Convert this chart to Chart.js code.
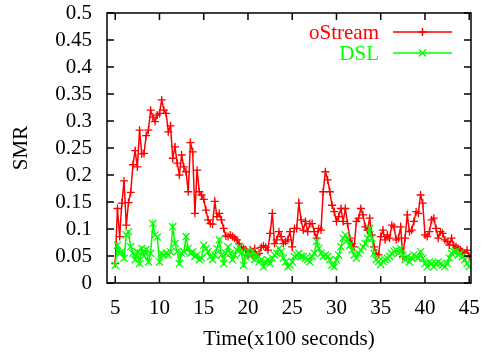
<!DOCTYPE html>
<html>
<head>
<meta charset="utf-8">
<script src="https://cdn.jsdelivr.net/npm/chart.js@4.4.1/dist/chart.umd.min.js"></script>
<style>
  html, body { margin: 0; padding: 0; background: #fff; }
</style>
</head>
<body>
<canvas id="smrChart" width="482" height="352"></canvas>
<script>
const seriesNames = ['oStream', 'DSL'];
const seriesColors = ['#ff0000', '#00ff00'];

// samples every 25 s, time axis in units of 100 s
const timeStart = 5;
const timeStep = 0.25;

const oStream = [
  0.036, 0.138, 0.086, 0.148, 0.189, 0.107, 0.149, 0.168, 0.219, 0.245,
  0.215, 0.283, 0.239, 0.240, 0.273, 0.283, 0.320, 0.307, 0.299, 0.311,
  0.314, 0.339, 0.320, 0.314, 0.280, 0.291, 0.231,
  0.252, 0.222, 0.200, 0.237, 0.215, 0.206, 0.169, 0.260, 0.243, 0.129,
  0.209, 0.169, 0.163, 0.155, 0.135, 0.117, 0.110, 0.109, 0.151, 0.123,
  0.129, 0.117, 0.101, 0.087, 0.086, 0.089, 0.086, 0.083, 0.080, 0.073,
  0.067, 0.064, 0.061, 0.052,
  0.061, 0.052, 0.064, 0.052, 0.055, 0.066, 0.069, 0.066, 0.061, 0.092,
  0.129, 0.073, 0.080, 0.095, 0.086, 0.073, 0.077, 0.080, 0.095, 0.067,
  0.101, 0.101, 0.148, 0.117, 0.098, 0.114, 0.095, 0.110, 0.110, 0.095,
  0.083, 0.101, 0.098, 0.169, 0.206,
  0.191, 0.169, 0.144, 0.132, 0.114, 0.123, 0.138, 0.114, 0.138, 0.110,
  0.083, 0.073, 0.067, 0.114, 0.120, 0.138, 0.126, 0.104, 0.098, 0.120,
  0.089, 0.067, 0.055, 0.052, 0.086, 0.098, 0.080, 0.089, 0.083, 0.107,
  0.104, 0.080, 0.083,
  0.104, 0.049, 0.083, 0.126, 0.095, 0.098, 0.114, 0.132, 0.129, 0.163,
  0.148, 0.089, 0.086, 0.095, 0.117, 0.120, 0.101, 0.083, 0.095, 0.092,
  0.080, 0.077, 0.070, 0.083, 0.070, 0.067, 0.064, 0.061, 0.058, 0.055,
  0.061, 0.049
];

const dsl = [
  0.033, 0.070, 0.055, 0.058, 0.046, 0.089, 0.095, 0.067, 0.055, 0.043,
  0.058, 0.036, 0.064, 0.050, 0.062, 0.039, 0.055, 0.110, 0.089, 0.085,
  0.039, 0.055, 0.052, 0.055, 0.052, 0.058, 0.104,
  0.073, 0.058, 0.036, 0.055, 0.058, 0.086, 0.064, 0.055, 0.058, 0.049,
  0.052, 0.043, 0.046, 0.070, 0.064, 0.058, 0.049, 0.043, 0.052, 0.064,
  0.080, 0.052, 0.036, 0.055, 0.067, 0.055, 0.043, 0.052, 0.061, 0.067,
  0.055, 0.033, 0.049, 0.058,
  0.049, 0.058, 0.043, 0.052, 0.039, 0.043, 0.030, 0.039, 0.043, 0.036,
  0.046, 0.052, 0.055, 0.064, 0.058, 0.046, 0.039, 0.030, 0.033, 0.039,
  0.049, 0.052, 0.055, 0.049, 0.049, 0.046, 0.043, 0.039, 0.049, 0.055,
  0.077, 0.064, 0.055, 0.049, 0.052,
  0.049, 0.043, 0.033, 0.030, 0.043, 0.052, 0.067, 0.083, 0.089, 0.080,
  0.070, 0.061, 0.052, 0.046, 0.055, 0.061, 0.067, 0.073, 0.083, 0.101,
  0.083, 0.055, 0.043, 0.040, 0.034, 0.040, 0.043, 0.046, 0.049, 0.055,
  0.059, 0.061, 0.055,
  0.064, 0.052, 0.043, 0.049, 0.039, 0.046, 0.052, 0.049, 0.046, 0.058,
  0.046, 0.036, 0.030, 0.039, 0.036, 0.030, 0.036, 0.039, 0.036, 0.033,
  0.030, 0.036, 0.046, 0.055, 0.058, 0.058, 0.052, 0.055, 0.049, 0.043,
  0.036, 0.030
];

const xTicks = [5, 10, 15, 20, 25, 30, 35, 40, 45];
const yTicks = [0, 0.05, 0.1, 0.15, 0.2, 0.25, 0.3, 0.35, 0.4, 0.45, 0.5];
const yTickLabels = ['0', '0.05', '0.1', '0.15', '0.2', '0.25', '0.3', '0.35', '0.4', '0.45', '0.5'];

const serif = '"Liberation Serif", "Times New Roman", serif';
const fontSize = 21;

const toPoints = vals => vals.map((v, i) => ({ x: timeStart + i * timeStep, y: v }));

// gnuplot-like frame, inward ticks and key
const gnuFrame = {
  id: 'gnuFrame',
  afterDraw(chart) {
    const { ctx, chartArea: a, scales: { x, y } } = chart;
    const tl = 7;
    ctx.save();
    ctx.strokeStyle = '#000000';
    ctx.lineWidth = 1.5;
    ctx.strokeRect(a.left, a.top, a.right - a.left, a.bottom - a.top);
    ctx.beginPath();
    xTicks.forEach(v => {
      const px = x.getPixelForValue(v);
      ctx.moveTo(px, a.bottom); ctx.lineTo(px, a.bottom - tl);
      ctx.moveTo(px, a.top); ctx.lineTo(px, a.top + tl);
    });
    yTicks.forEach(v => {
      const py = y.getPixelForValue(v);
      ctx.moveTo(a.left, py); ctx.lineTo(a.left + tl, py);
      ctx.moveTo(a.right, py); ctx.lineTo(a.right - tl, py);
    });
    ctx.stroke();
    ctx.restore();

    // key
    chart.data.datasets.forEach((ds, i) => {
      const ky = 32 + i * 21;
      const col = seriesColors[i];
      ctx.save();
      ctx.font = fontSize + 'px ' + serif;
      ctx.textAlign = 'right';
      ctx.textBaseline = 'middle';
      ctx.fillStyle = col;
      ctx.fillText(ds.label, 379, ky + 1);
      ctx.strokeStyle = col;
      ctx.fillStyle = col;
      ctx.lineWidth = 1.5;
      ctx.beginPath();
      ctx.moveTo(393, ky);
      ctx.lineTo(452, ky);
      ctx.stroke();
      Chart.helpers.drawPoint(ctx, {
        pointStyle: ds.pointStyle, radius: ds.pointRadius, rotation: 0, borderWidth: 1.5
      }, 422.5, ky);
      ctx.restore();
    });
  }
};

new Chart(document.getElementById('smrChart'), {
  type: 'line',
  data: {
    datasets: [
      {
        label: seriesNames[0],
        data: toPoints(oStream),
        borderColor: seriesColors[0],
        backgroundColor: seriesColors[0],
        borderWidth: 1.5,
        pointStyle: 'cross',
        pointRadius: 4,
        pointBorderWidth: 1.3,
        order: 1
      },
      {
        label: seriesNames[1],
        data: toPoints(dsl),
        borderColor: seriesColors[1],
        backgroundColor: seriesColors[1],
        borderWidth: 1.5,
        pointStyle: 'crossRot',
        pointRadius: 5,
        pointBorderWidth: 1.3,
        order: 0
      }
    ]
  },
  options: {
    responsive: false,
    animation: false,
    layout: { padding: { top: 13, right: 11, left: 0, bottom: 0 } },
    plugins: {
      legend: { display: false },
      tooltip: { enabled: false }
    },
    scales: {
      x: {
        type: 'linear',
        min: 4.07,
        max: 45.2,
        grid: { display: false, drawTicks: false },
        border: { display: false },
        afterBuildTicks: s => { s.ticks = xTicks.map(v => ({ value: v })); },
        afterFit: s => { s.height = 69; s.paddingLeft = 0; s.paddingRight = 0; },
        ticks: {
          color: '#000',
          padding: 13,
          autoSkip: false,
          maxRotation: 0,
          font: { family: serif, size: fontSize }
        },
        title: {
          display: true,
          text: 'Time(x100 seconds)',
          color: '#000',
          padding: { top: 0, bottom: 0 },
          font: { family: serif, size: fontSize }
        }
      },
      y: {
        min: 0,
        max: 0.5,
        grid: { display: false, drawTicks: false },
        border: { display: false },
        afterBuildTicks: s => { s.ticks = yTicks.map(v => ({ value: v })); },
        afterFit: s => { s.width = 107; s.paddingTop = 0; s.paddingBottom = 0; },
        ticks: {
          color: '#000',
          padding: 15,
          autoSkip: false,
          font: { family: serif, size: fontSize },
          callback: (v, i) => yTickLabels[i]
        },
        title: {
          display: true,
          text: 'SMR',
          color: '#000',
          padding: { top: 9, bottom: 0 },
          font: { family: serif, size: fontSize }
        }
      }
    }
  },
  plugins: [gnuFrame]
});
</script>
</body>
</html>
